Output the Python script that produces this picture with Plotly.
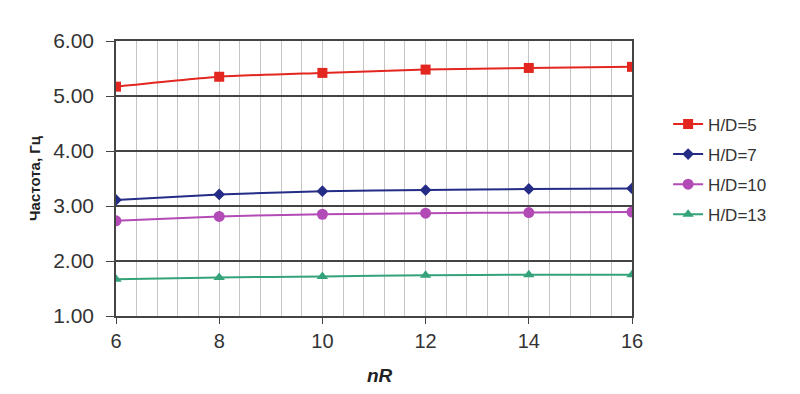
import plotly.graph_objects as go

nR = [6, 8, 10, 12, 14, 16]
hd5 = [5.17, 5.35, 5.42, 5.48, 5.51, 5.53]
hd7 = [3.11, 3.21, 3.27, 3.29, 3.31, 3.32]
hd10 = [2.73, 2.81, 2.85, 2.87, 2.88, 2.89]
hd13 = [1.67, 1.70, 1.72, 1.74, 1.75, 1.75]

names = ["H/D=5", "H/D=7", "H/D=10", "H/D=13"]
series = [hd5, hd7, hd10, hd13]
colors = ["#e3261f", "#242c86", "#b24bb5", "#35a37a"]
symbols = ["square", "diamond", "circle", "triangle-up"]
sizes = [10, 9, 11, 10]

fig = go.Figure()
for n, s, c, sym, sz in zip(names, series, colors, symbols, sizes):
    fig.add_trace(go.Scatter(
        x=nR, y=s, name=n, legendgroup=n, mode="lines+markers",
        line=dict(color=c, width=2, shape="spline", smoothing=0.6),
        marker=dict(color=c, symbol=sym, size=sz),
    ))

font = "Liberation Sans, Arial, sans-serif"
fig.update_layout(
    width=800, height=394,
    margin=dict(l=108, r=176, t=33, b=86),
    plot_bgcolor="white", paper_bgcolor="white",
    font=dict(family=font, size=20, color="#333333"),
    legend=dict(x=1.07, y=0.762, xanchor="left", yanchor="top",
                font=dict(size=17, color="#333333"), tracegroupgap=5,
                itemwidth=30, bgcolor="rgba(0,0,0,0)"),
    showlegend=True,
)
fig.add_annotation(
    text="<b><i>nR</i></b>", xref="paper", yref="paper",
    x=0.512, y=-0.215, xanchor="center", yanchor="middle",
    showarrow=False, font=dict(size=19, color="#222222"),
)
fig.update_xaxes(
    range=[6, 16], tickvals=[6, 8, 10, 12, 14, 16], automargin=False,
    showgrid=True, gridcolor="#c4c4c4", gridwidth=1,
    minor=dict(dtick=0.4, tick0=6, showgrid=True, gridcolor="#c4c4c4", gridwidth=1),
    showline=True, linecolor="#444444", linewidth=1.5, mirror=True,
    ticks="outside", ticklen=6, tickcolor="#444444",
    zeroline=False,
)
fig.update_yaxes(
    range=[1, 6], dtick=1, tickformat=".2f", automargin=False,
    tickfont=dict(size=21),
    showgrid=True, gridcolor="#444444", gridwidth=1.5,
    showline=True, linecolor="#444444", linewidth=1.5, mirror=True,
    ticks="outside", ticklen=8, tickcolor="#444444", ticklabelstandoff=8,
    title=dict(text="<b>Частота, Гц</b>", font=dict(size=15, color="#222222"), standoff=9),
    zeroline=False,
)

fig.write_html("out.html")
